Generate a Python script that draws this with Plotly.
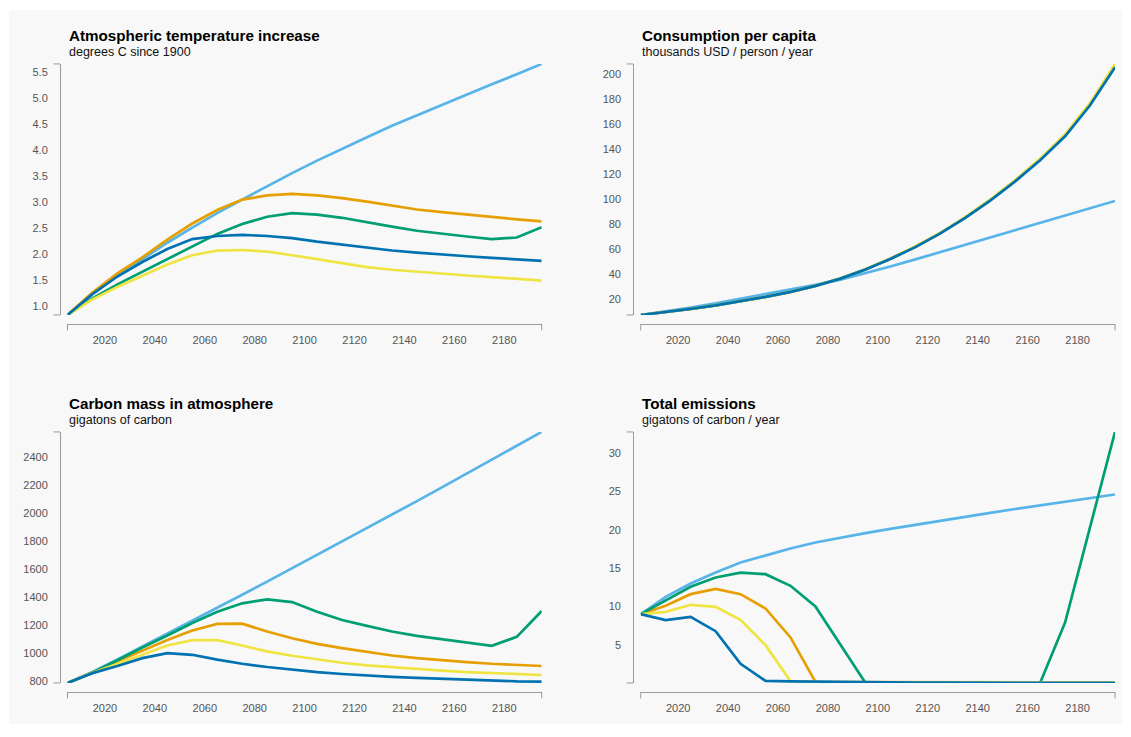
import plotly.graph_objects as go

# ---------------- data ----------------
years = [2005, 2015, 2025, 2035, 2045, 2055, 2065, 2075, 2085, 2095,
         2105, 2115, 2125, 2135, 2145, 2155, 2165, 2175, 2185, 2195]

series_names = ["Scenario A", "Scenario B", "Scenario C", "Scenario D", "Scenario E"]
series_colors = ["#56B4E9", "#E69F00", "#009E73", "#F0E442", "#0072B2"]

# Atmospheric temperature increase (degrees C since 1900)
temp_a = [0.83, 1.24, 1.59, 1.91, 2.22, 2.51, 2.79, 3.05, 3.31, 3.56, 3.80, 4.03, 4.25, 4.47, 4.67, 4.88, 5.08, 5.27, 5.46, 5.66]
temp_b = [0.83, 1.26, 1.63, 1.94, 2.28, 2.59, 2.85, 3.05, 3.13, 3.16, 3.13, 3.08, 3.01, 2.93, 2.86, 2.81, 2.76, 2.71, 2.67, 2.63]
temp_c = [0.83, 1.15, 1.42, 1.66, 1.90, 2.15, 2.39, 2.58, 2.72, 2.79, 2.76, 2.70, 2.61, 2.53, 2.45, 2.39, 2.34, 2.29, 2.32, 2.52]
temp_d = [0.83, 1.13, 1.37, 1.59, 1.80, 1.98, 2.07, 2.08, 2.05, 1.98, 1.90, 1.82, 1.75, 1.70, 1.66, 1.62, 1.59, 1.56, 1.52, 1.49]
temp_e = [0.83, 1.23, 1.57, 1.85, 2.10, 2.29, 2.35, 2.37, 2.35, 2.31, 2.24, 2.18, 2.12, 2.07, 2.03, 1.99, 1.96, 1.93, 1.90, 1.87]

# Consumption per capita (thousands USD / person / year)
cons_a = [7.5, 10.2, 13.4, 16.9, 20.5, 24.2, 27.8, 31.6, 35.8, 40.8, 46.3, 52.0, 57.8, 63.8, 69.7, 75.6, 81.4, 87.2, 93.0, 98.8]
cons_b = [7.5, 9.8, 12.4, 15.2, 18.3, 22.0, 26.0, 30.8, 36.7, 44.0, 52.5, 62.0, 73.0, 85.5, 99.5, 115.0, 132.0, 151.5, 176.5, 207.5]
cons_c = [7.5, 9.8, 12.4, 15.2, 18.3, 22.0, 26.0, 30.8, 36.7, 44.0, 52.5, 62.0, 73.0, 85.5, 99.5, 115.0, 132.0, 151.2, 176.2, 207.0]
cons_d = [7.5, 9.8, 12.4, 15.2, 18.3, 22.0, 26.0, 30.8, 36.8, 44.1, 52.7, 62.3, 73.3, 85.9, 100.0, 115.6, 132.7, 152.2, 177.3, 208.5]
cons_e = [7.5, 9.8, 12.4, 15.2, 18.3, 22.0, 26.0, 30.8, 36.6, 43.9, 52.4, 61.8, 72.8, 85.2, 99.1, 114.5, 131.4, 150.6, 175.4, 205.8]

# Carbon mass in atmosphere (gigatons of carbon)
carb_a = [788, 866, 956, 1047, 1138, 1230, 1323, 1417, 1511, 1606, 1701, 1796, 1891, 1988, 2085, 2183, 2281, 2380, 2479, 2578]
carb_b = [788, 862, 942, 1017, 1095, 1162, 1209, 1211, 1155, 1107, 1067, 1036, 1008, 984, 965, 949, 937, 925, 916, 909]
carb_c = [788, 863, 950, 1041, 1126, 1216, 1296, 1356, 1384, 1365, 1296, 1237, 1195, 1155, 1124, 1100, 1079, 1053, 1117, 1301]
carb_d = [788, 860, 923, 989, 1055, 1093, 1093, 1055, 1013, 982, 956, 932, 913, 899, 885, 876, 866, 859, 852, 845]
carb_e = [788, 858, 909, 965, 1001, 989, 954, 925, 902, 883, 866, 852, 840, 831, 824, 817, 809, 805, 800, 798]

# Total emissions (gigatons of carbon / year)
emis_a = [9.0, 11.26, 13.0, 14.43, 15.74, 16.70, 17.57, 18.35, 19.0, 19.57, 20.12, 20.66, 21.19, 21.71, 22.22, 22.72, 23.21, 23.69, 24.16, 24.62]
emis_b = [9.0, 10.09, 11.61, 12.30, 11.61, 9.74, 5.96, 0.17, 0.12, 0.11, 0.10, 0.10, 0.10, 0.09, 0.09, 0.09, 0.09, 0.08, 0.08, 0.08]
emis_c = [9.0, 10.74, 12.57, 13.78, 14.43, 14.22, 12.70, 10.0, 4.96, 0.05, 0.04, 0.04, 0.03, 0.03, 0.03, 0.03, 0.03, 7.91, 20.4, 32.78]
emis_d = [9.0, 9.30, 10.22, 9.96, 8.26, 4.96, 0.26, 0.12, 0.11, 0.10, 0.10, 0.09, 0.09, 0.09, 0.08, 0.08, 0.08, 0.08, 0.07, 0.07]
emis_e = [9.0, 8.22, 8.65, 6.78, 2.52, 0.30, 0.24, 0.19, 0.15, 0.12, 0.09, 0.07, 0.06, 0.05, 0.04, 0.04, 0.03, 0.03, 0.02, 0.02]

panels = [
    dict(title="Atmospheric temperature increase", subtitle="degrees C since 1900",
         data=[temp_a, temp_b, temp_c, temp_d, temp_e], dtick=0.5, fmt=".1f"),
    dict(title="Consumption per capita", subtitle="thousands USD / person / year",
         data=[cons_a, cons_b, cons_c, cons_d, cons_e], dtick=20, fmt="d"),
    dict(title="Carbon mass in atmosphere", subtitle="gigatons of carbon",
         data=[carb_a, carb_b, carb_c, carb_d, carb_e], dtick=200, fmt="d"),
    dict(title="Total emissions", subtitle="gigatons of carbon / year",
         data=[emis_a, emis_b, emis_c, emis_d, emis_e], dtick=5, fmt="d"),
]

# ---------------- layout geometry (pixels) ----------------
W, H = 1131, 737
col_x = [(67.5, 541.7), (640.7, 1115.0)]
row_y = [(64.3, 316.7), (434.3, 686.7)]
AXIS_GAP_Y = 7.5    # y-axis line offset left of plot
AXIS_GAP_X = 9.0    # x-axis line offset below plot
END_TICK = 6.5

FONT = "Liberation Sans, Arial, Helvetica, sans-serif"
AXIS_COLOR = "#9a9a9a"
LABEL_COLOR = "#555555"

def px(x):
    return x / W

def py(y):
    return 1 - y / H

fig = go.Figure()
layout = dict(
    width=W, height=H, autosize=False,
    margin=dict(l=0, r=0, t=0, b=0),
    paper_bgcolor="white", plot_bgcolor="rgba(0,0,0,0)",
    showlegend=False,
    font=dict(family=FONT, size=11, color=LABEL_COLOR),
)
shapes = [dict(type="rect", xref="paper", yref="paper", layer="below",
               x0=px(9), x1=px(1122), y0=py(728), y1=py(10),
               fillcolor="#f8f8f8", line=dict(width=0))]
annotations = []

for i, p in enumerate(panels):
    r, c = divmod(i, 2)
    x0, x1 = col_x[c]
    yt, yb = row_y[r]
    suffix = "" if i == 0 else str(i + 1)
    xa, ya = "xaxis" + suffix, "yaxis" + suffix

    allv = [v for s in p["data"] for v in s]
    ymin, ymax = min(allv), max(allv)

    layout[xa] = dict(
        domain=[px(x0), px(x1)], range=[years[0], years[-1]],
        anchor="free", position=py(yb + AXIS_GAP_X),
        showline=True, linecolor=AXIS_COLOR, linewidth=1,
        showgrid=False, zeroline=False, ticks="",
        tick0=2000, dtick=20, tickformat="d",
        ticklabelstandoff=6,
        tickfont=dict(family=FONT, size=11, color=LABEL_COLOR),
    )
    layout[ya] = dict(
        domain=[py(yb), py(yt)], range=[ymin, ymax],
        anchor="free", position=px(x0 - AXIS_GAP_Y),
        showline=True, linecolor=AXIS_COLOR, linewidth=1,
        showgrid=False, zeroline=False, ticks="",
        tick0=0, dtick=p["dtick"], tickformat=p["fmt"],
        ticklabelstandoff=10,
        tickfont=dict(family=FONT, size=11, color=LABEL_COLOR),
    )

    for name, color, vals in zip(series_names, series_colors, p["data"]):
        fig.add_trace(go.Scatter(
            x=years, y=vals, mode="lines", name=name,
            line=dict(color=color, width=2.7),
            xaxis="x" + suffix, yaxis="y" + suffix,
            hoverinfo="x+y+name",
        ))

    # bracket end ticks of the offset axes
    yax_x = x0 - AXIS_GAP_Y
    for yy in (yt, yb):
        shapes.append(dict(type="line", xref="paper", yref="paper",
                           x0=px(yax_x - END_TICK), x1=px(yax_x), y0=py(yy), y1=py(yy),
                           line=dict(color=AXIS_COLOR, width=1)))
    xax_y = yb + AXIS_GAP_X
    for xx in (x0, x1):
        shapes.append(dict(type="line", xref="paper", yref="paper",
                           x0=px(xx), x1=px(xx), y0=py(xax_y), y1=py(xax_y + END_TICK),
                           line=dict(color=AXIS_COLOR, width=1)))

    # titles
    annotations.append(dict(text="<b>" + p["title"] + "</b>", xref="paper", yref="paper",
                            x=px(x0 - 1), y=py(yt - 28.5), xanchor="left", yanchor="middle",
                            showarrow=False, font=dict(family=FONT, size=15.2, color="#000000")))
    annotations.append(dict(text=p["subtitle"], xref="paper", yref="paper",
                            x=px(x0 - 1), y=py(yt - 12.5), xanchor="left", yanchor="middle",
                            showarrow=False, font=dict(family=FONT, size=12.5, color="#111111")))

layout["shapes"] = shapes
layout["annotations"] = annotations
fig.update_layout(**layout)

fig.write_html("out.html")
